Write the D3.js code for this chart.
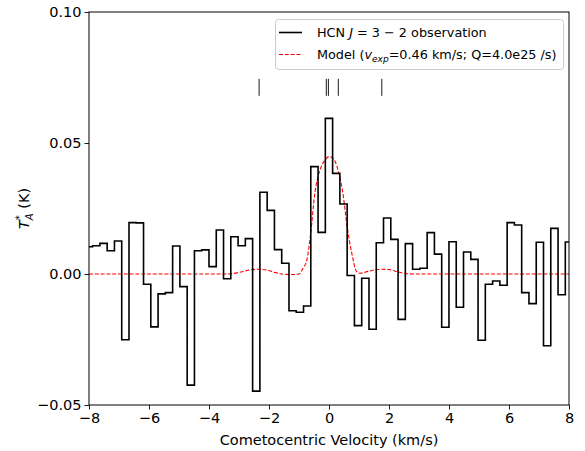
<!DOCTYPE html>
<html lang="en">
<head>
<meta charset="UTF-8">
<title>HCN J=3-2 spectrum</title>
<script src="https://d3js.org/d3.v7.min.js"></script>
<style>
    body { margin: 0; background: #fff; }
    svg text { font-family: "DejaVu Sans", sans-serif; fill: #000; }
</style>
</head>
<body>
<svg id="chart"></svg>
<script>
    // Spectrum channels: first channel centre and channel width (km/s)
    var velStart = -8.0,
        chanWidth = 0.2424;

    // Observed antenna temperature per channel (K)
    var obsTa = [
        0.0104, 0.0108, 0.0117, 0.0089, 0.0126, -0.0251, 0.0196, 0.0195, -0.0039, -0.0202,
        -0.0076, -0.0071, 0.0107, -0.0048, -0.0424, 0.0089, 0.0092, 0.0028, 0.0168, -0.0018,
        0.0142, 0.0108, 0.0135, -0.0447, 0.0312, 0.0243, 0.0093, 0.0041, -0.0140, -0.0146,
        -0.0122, 0.0410, 0.0159, 0.0594, 0.0384, 0.0267, -0.0006, -0.0197, -0.0016, -0.0211,
        0.0119, 0.0214, 0.0132, -0.0173, 0.0116, 0.0018, 0.0022, 0.0158, 0.0076, -0.0203,
        0.0123, -0.0127, 0.0084, 0.0056, -0.0253, -0.0039, -0.0027, -0.0043, 0.0196, 0.0187,
        -0.0071, -0.0113, 0.0121, -0.0274, 0.0174, -0.0079, 0.0122
    ];

    // Model curve
    var modelVel = [-8, -3.4, -3.0, -2.7, -2.4, -2.1, -1.8, -1.5, -1.2, -1.0, -0.85, -0.74, -0.61,
        -0.47, -0.3, -0.13, 0.0, 0.1, 0.2, 0.33, 0.48, 0.59, 0.76, 0.92, 1.03, 1.3, 1.7, 2.0,
        2.3, 2.6, 2.9, 8];
    var modelTa = [0, 0, 0.0006, 0.0014, 0.0018, 0.0016, 0.0006, -0.0001, -0.0002, 0.0, 0.0025,
        0.0053, 0.0156, 0.031, 0.0397, 0.0435, 0.0448, 0.0445, 0.043, 0.0384, 0.0295, 0.0193,
        0.0079, 0.0009, 0.0003, 0.0010, 0.0018, 0.0017, 0.0008, 0.0001, 0, 0];

    // hyperfine component markers
    var hfsVel = [-2.33, -0.09, -0.02, 0.31, 1.76];
    var hfsRange = [0.068, 0.0745];

    var xTicks = [-8, -6, -4, -2, 0, 2, 4, 6, 8];
    var yTicks = [-0.05, 0.00, 0.05, 0.10];

    // Constants
    var width = 585,
        height = 451,
        margin = { top: 12, right: 16, bottom: 46, left: 89 };

    var svg = d3.select("#chart")
        .attr("width", width)
        .attr("height", height);

    var x = d3.scaleLinear().domain([-8, 8]).range([margin.left, width - margin.right]);
    var y = d3.scaleLinear().domain([-0.05, 0.10]).range([height - margin.bottom, margin.top]);

    svg.append("clipPath").attr("id", "clip")
        .append("rect")
        .attr("x", x(-8)).attr("y", y(0.10))
        .attr("width", x(8) - x(-8)).attr("height", y(-0.05) - y(0.10));

    var plot = svg.append("g").attr("clip-path", "url(#clip)");

    // model (drawn under the data)
    var modelLine = d3.line()
        .x((d, i) => x(modelVel[i]))
        .y(d => y(d))
        .curve(d3.curveMonotoneX);

    plot.append("path")
        .datum(modelTa)
        .attr("d", modelLine)
        .attr("fill", "none")
        .attr("stroke", "#ff0000")
        .attr("stroke-width", 1.1)
        .attr("stroke-dasharray", "4,1.8");

    // observed spectrum, steps-mid
    var obsLine = d3.line()
        .x((d, i) => x(velStart + i * chanWidth))
        .y(d => y(d))
        .curve(d3.curveStep);

    plot.append("path")
        .datum(obsTa)
        .attr("d", obsLine)
        .attr("fill", "none")
        .attr("stroke", "#000")
        .attr("stroke-width", 1.6)
        .attr("stroke-linejoin", "miter");

    // hyperfine markers
    plot.selectAll(".hfs")
        .data(hfsVel)
        .enter()
        .append("line")
        .attr("class", "hfs")
        .attr("x1", d => x(d)).attr("x2", d => x(d))
        .attr("y1", y(hfsRange[0])).attr("y2", y(hfsRange[1]))
        .attr("stroke", "#000")
        .attr("stroke-width", 0.9);

    // Axes
    var xAxis = d3.axisBottom(x).tickValues(xTicks).tickSize(4.5).tickPadding(3)
        .tickFormat(d3.format("d"));
    var yAxis = d3.axisLeft(y).tickValues(yTicks).tickSize(4.5).tickPadding(3)
        .tickFormat(d3.format(".2f"));

    var gx = svg.append("g")
        .attr("transform", "translate(0," + y(-0.05) + ")")
        .call(xAxis);
    var gy = svg.append("g")
        .attr("transform", "translate(" + x(-8) + ",0)")
        .call(yAxis);

    [gx, gy].forEach(g => {
        g.select(".domain").remove();
        g.selectAll("text").style("font-size", "14.5px").attr("fill", "#000");
        g.selectAll("line").attr("stroke", "#000").attr("stroke-width", 0.9);
    });

    // frame
    svg.append("rect")
        .attr("x", x(-8)).attr("y", y(0.10))
        .attr("width", x(8) - x(-8)).attr("height", y(-0.05) - y(0.10))
        .attr("fill", "none")
        .attr("stroke", "#000")
        .attr("stroke-width", 1);

    // axis labels
    svg.append("text")
        .attr("x", (x(-8) + x(8)) / 2)
        .attr("y", 445)
        .attr("text-anchor", "middle")
        .style("font-size", "14.5px")
        .text("Cometocentric Velocity (km/s)");

    var yl = svg.append("text")
        .attr("transform", "translate(29," + (y(0.025)) + ") rotate(-90)")
        .attr("text-anchor", "middle")
        .style("font-size", "14.5px");
    yl.append("tspan").style("font-style", "italic").text("T");
    yl.append("tspan").attr("dy", -6).style("font-size", "10px").text("*");
    yl.append("tspan").attr("dx", -5).attr("dy", 10).style("font-size", "10px").style("font-style", "italic").text("A");
    yl.append("tspan").attr("dy", -4).text(" (K)");

    // Legend
    var lg = svg.append("g");
    lg.append("rect")
        .attr("x", 275.5).attr("y", 19.5)
        .attr("width", 288).attr("height", 50)
        .attr("rx", 3)
        .attr("fill", "#fff").attr("fill-opacity", 0.8)
        .attr("stroke", "#cccccc");

    lg.append("line")
        .attr("x1", 279).attr("x2", 302).attr("y1", 32.5).attr("y2", 32.5)
        .attr("stroke", "#000").attr("stroke-width", 1.6);
    lg.append("line")
        .attr("x1", 279).attr("x2", 302).attr("y1", 54.5).attr("y2", 54.5)
        .attr("stroke", "#ff0000").attr("stroke-width", 1.1).attr("stroke-dasharray", "4,1.8");

    var t1 = lg.append("text").attr("x", 317).attr("y", 37).style("font-size", "12.8px");
    t1.append("tspan").text("HCN ");
    t1.append("tspan").style("font-style", "italic").text("J");
    t1.append("tspan").text(" = 3 \u2212 2 observation");

    var t2 = lg.append("text").attr("x", 317).attr("y", 59).style("font-size", "12.8px");
    t2.append("tspan").text("Model (");
    t2.append("tspan").style("font-style", "italic").text("v");
    t2.append("tspan").attr("dy", 3).style("font-size", "9px").style("font-style", "italic").text("exp");
    t2.append("tspan").attr("dy", -3).text("=0.46 km/s; Q=4.0e25 /s)");
</script>
</body>
</html>
